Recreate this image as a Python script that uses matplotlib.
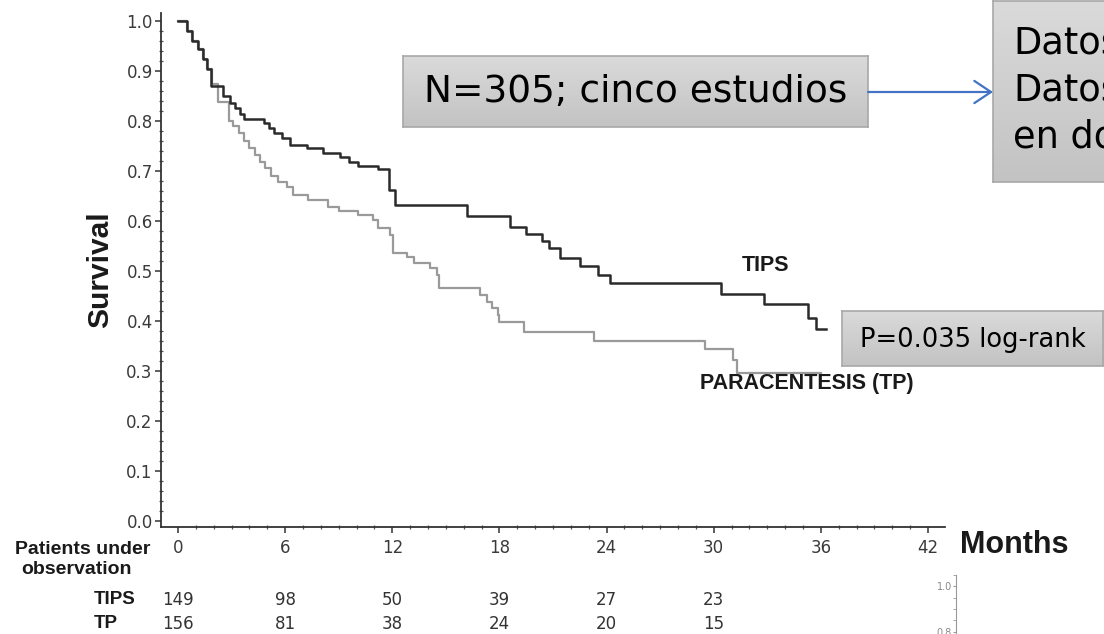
import numpy as np
import matplotlib
matplotlib.use('Agg')
import matplotlib.pyplot as plt
import matplotlib.transforms as mtransforms
from matplotlib.colors import LinearSegmentedColormap
from matplotlib.patches import FancyArrowPatch
from matplotlib.ticker import MultipleLocator

W, H = 1104, 634

# Kaplan-Meier steps (months, survival)
tips_t = [0, 0.5, 0.8, 1.1, 1.4, 1.6, 1.85, 2.5, 2.9, 3.2, 3.5, 3.7, 4.8, 5.1, 5.4, 5.8,
          6.3, 7.2, 8.1, 9.1, 9.6, 10.1, 11.2, 11.8, 12.15, 16.2, 18.6, 19.5, 20.4, 20.8,
          21.4, 22.5, 23.5, 24.2, 30.4, 32.8, 35.3, 35.7, 36.3]
tips_s = [1.0, 0.98, 0.96, 0.945, 0.925, 0.905, 0.87, 0.85, 0.836, 0.826, 0.815, 0.805, 0.796, 0.786, 0.776, 0.766,
          0.752, 0.746, 0.736, 0.728, 0.718, 0.71, 0.704, 0.662, 0.632, 0.61, 0.588, 0.574, 0.56, 0.546,
          0.526, 0.51, 0.492, 0.476, 0.454, 0.434, 0.406, 0.384, 0.384]

tp_t = [0, 0.5, 0.8, 1.1, 1.4, 1.6, 1.9, 2.25, 2.85, 3.1, 3.4, 3.7, 4.0, 4.3, 4.6, 4.9, 5.2, 5.6,
        6.1, 6.45, 7.3, 8.4, 9.0, 10.1, 10.9, 11.2, 11.9, 12.05, 12.8, 13.2, 14.1, 14.5, 14.6,
        16.9, 17.3, 17.6, 17.9, 18.0, 19.4, 23.3, 29.5, 31.1, 31.3, 36.0]
tp_s = [1.0, 0.98, 0.96, 0.945, 0.925, 0.905, 0.875, 0.838, 0.80, 0.79, 0.776, 0.76, 0.746, 0.732, 0.718, 0.706, 0.69, 0.678,
        0.668, 0.652, 0.642, 0.628, 0.62, 0.612, 0.602, 0.586, 0.572, 0.536, 0.528, 0.516, 0.506, 0.492, 0.466,
        0.452, 0.438, 0.426, 0.412, 0.398, 0.378, 0.36, 0.344, 0.322, 0.296, 0.296]

risk_months = [0, 6, 12, 18, 24, 30]
risk_tips = [149, 98, 50, 39, 27, 23]
risk_tp = [156, 81, 38, 24, 20, 15]


def fx(px):
    return px / W


def fy(py):
    return 1 - py / H


fig = plt.figure(figsize=(W / 100, H / 100), dpi=100)
fig.patch.set_facecolor('white')

# main axes: spine left at x=161, bottom at y=527
ax = fig.add_axes([fx(161), fy(527), (945 - 161) / W, (527 - 13) / H])
ax.step(tp_t, tp_s, where='post', color='#9a9a9a', lw=1.6)
ax.step(tips_t, tips_s, where='post', color='#2a2a2a', lw=1.8)
ax.set_xlim(-0.95, 42.95)
ax.set_ylim(-0.012, 1.016)
ax.set_xticks(range(0, 43, 6))
ax.set_yticks(np.arange(0, 1.01, 0.1))
ax.set_yticklabels(['%.1f' % v for v in np.arange(0, 1.01, 0.1)])
ax.xaxis.set_minor_locator(MultipleLocator(1))
ax.yaxis.set_minor_locator(MultipleLocator(0.02))
for side in ['top', 'right']:
    ax.spines[side].set_visible(False)
for side in ['left', 'bottom']:
    ax.spines[side].set_color('#333333')
    ax.spines[side].set_linewidth(1.3)
ax.tick_params(which='major', length=4.5, width=1.1, color='#333333', labelsize=12,
               labelcolor='#3a3a3a', pad=1.5)
ax.tick_params(which='minor', length=2.5, width=0.9, color='#555555', direction='inout')
ax.tick_params(axis='x', which='major', pad=4)

fig.text(fx(766), fy(265), 'TIPS', family='Liberation Sans', weight='bold', fontsize=15.5,
         ha='center', va='center', color='#1a1a1a')
fig.text(fx(807), fy(384), 'PARACENTESIS (TP)', family='Liberation Sans', weight='bold', fontsize=15.5,
         ha='center', va='center', color='#1a1a1a')
fig.text(fx(100), fy(270), 'Survival', family='Liberation Sans', weight='bold', fontsize=21.5,
         rotation=90, ha='center', va='center', color='#1a1a1a')
fig.text(fx(1014), fy(545), 'Months', family='Liberation Sans', weight='bold', fontsize=22,
         ha='center', va='center', color='#1a1a1a')
fig.text(fx(83), fy(549), 'Patients under', family='Liberation Sans', weight='bold', fontsize=14,
         ha='center', va='center', color='#1a1a1a')
fig.text(fx(76), fy(569), 'observation', family='Liberation Sans', weight='bold', fontsize=14,
         ha='center', va='center', color='#1a1a1a')
fig.text(fx(94), fy(600), 'TIPS', family='Liberation Sans', weight='bold', fontsize=13.5,
         ha='left', va='center', color='#1a1a1a')
fig.text(fx(94), fy(624), 'TP', family='Liberation Sans', weight='bold', fontsize=13.5,
         ha='left', va='center', color='#1a1a1a')

# numbers at risk under the x axis
trans = mtransforms.blended_transform_factory(ax.transData, fig.transFigure)
for m, a, b in zip(risk_months, risk_tips, risk_tp):
    ax.text(m, fy(600), str(a), transform=trans, ha='center', va='center', fontsize=12,
            color='#333333', clip_on=False)
    ax.text(m, fy(624), str(b), transform=trans, ha='center', va='center', fontsize=12,
            color='#333333', clip_on=False)

# small piece of another plot in the bottom right corner
ax2 = fig.add_axes([fx(956), 0, 0.05, (634 - 575) / H])
ax2.set_ylim(0.79, 1.05)
ax2.set_yticks([0.8, 1.0])
ax2.set_yticklabels(['0.8', '1.0'])
ax2.set_xticks([])
ax2.yaxis.set_minor_locator(MultipleLocator(0.05))
for side in ['top', 'right', 'bottom']:
    ax2.spines[side].set_visible(False)
ax2.spines['left'].set_color('#999999')
ax2.spines['left'].set_linewidth(0.8)
ax2.tick_params(which='both', length=2, color='#999999', labelsize=7, labelcolor='#888888', pad=1)
ax2.patch.set_alpha(0)

# grey gradient boxes from the slide
grad = LinearSegmentedColormap.from_list('box', ['#dadada', '#c3c3c3'])


def gray_box(x0, y0, x1, y1):
    b = fig.add_axes([fx(x0), fy(y1), (x1 - x0) / W, (y1 - y0) / H])
    b.imshow(np.linspace(0, 1, 64).reshape(-1, 1), cmap=grad, aspect='auto',
             extent=[0, 1, 0, 1])
    b.set_xticks([])
    b.set_yticks([])
    for s in b.spines.values():
        s.set_color('#a8a8a8')
        s.set_linewidth(1.2)
    return b


b1 = gray_box(403, 56, 868, 127)
b1.text(0.5, 0.5, 'N=305; cinco estudios', transform=b1.transAxes, ha='center', va='center',
        fontsize=27, family='DejaVu Sans', color='black')

b2 = gray_box(993, 1, 1130, 182)
b2.text(fx(1013), fy(90), 'Datos\nDatos\nen do', transform=fig.transFigure, ha='left', va='center',
        fontsize=26.5, family='DejaVu Sans', color='black', linespacing=1.33)

b3 = gray_box(842, 311, 1103, 366)
b3.text(0.5, 0.48, 'P=0.035 log-rank', transform=b3.transAxes, ha='center', va='center',
        fontsize=18.5, family='DejaVu Sans', color='black')

arrow = FancyArrowPatch((fx(868), fy(92)), (fx(993), fy(92)), transform=fig.transFigure,
                        arrowstyle='->,head_length=1.2,head_width=0.8', mutation_scale=10,
                        color='#4472c4', lw=1.6, shrinkA=0, shrinkB=0)
fig.patches.append(arrow)

fig.savefig('out.png', dpi=100)
